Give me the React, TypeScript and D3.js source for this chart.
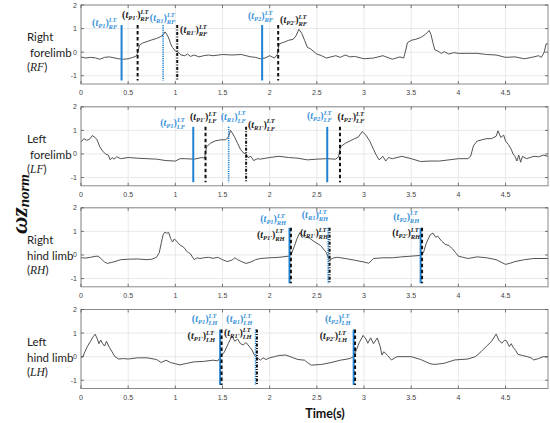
import React from 'react';
import * as d3 from 'd3';

type Pt = [number, number];

// time axis and value axis ticks
const xTicks = [0, 0.5, 1, 1.5, 2, 2.5, 3, 3.5, 4, 4.5];
const yTicks = [-1, 0, 1, 2];

// normalized angular velocity traces
const rfSeries: Pt[] = [
  [0, -0.2], [0.05, -0.25], [0.1, -0.22], [0.15, -0.24], [0.2, -0.3], [0.25, -0.22], [0.3, -0.2],
  [0.35, -0.24], [0.4, -0.28], [0.45, -0.3], [0.5, -0.28], [0.55, -0.22], [0.58, -0.18], [0.6, -0.05],
  [0.62, 0.3], [0.65, 0.38], [0.7, 0.45], [0.75, 0.52], [0.8, 0.58], [0.84, 0.65], [0.87, 0.72],
  [0.89, 0.86], [0.91, 0.75], [0.93, 0.6], [0.95, 0.35], [0.97, 0.2], [1.0, 0.05], [1.03, 0.0],
  [1.06, -0.12], [1.1, -0.15], [1.13, -0.08], [1.16, -0.18], [1.2, -0.12], [1.25, -0.2], [1.3, -0.15],
  [1.35, -0.12], [1.4, -0.15], [1.5, -0.1], [1.6, -0.12], [1.7, -0.1], [1.75, -0.15], [1.8, -0.2],
  [1.85, -0.22], [1.9, -0.28], [1.95, -0.25], [2.0, -0.15], [2.05, -0.25], [2.08, -0.1], [2.1, 0.35],
  [2.15, 0.42], [2.2, 0.5], [2.25, 0.55], [2.28, 0.7], [2.31, 0.97], [2.34, 0.8], [2.37, 0.5],
  [2.4, 0.2], [2.43, 0.15], [2.46, 0.05], [2.5, -0.08], [2.55, -0.15], [2.6, -0.25], [2.65, -0.2],
  [2.7, -0.15], [2.75, -0.22], [2.8, -0.12], [2.85, -0.2], [2.9, -0.18], [3.0, -0.28], [3.1, -0.25],
  [3.2, -0.15], [3.3, -0.3], [3.38, -0.2], [3.42, -0.25], [3.44, 0.05], [3.46, 0.4], [3.5, 0.5],
  [3.55, 0.55], [3.6, 0.62], [3.65, 0.75], [3.69, 0.92], [3.71, 0.75], [3.73, 0.4], [3.75, 0.1],
  [3.78, 0.05], [3.82, -0.05], [3.85, 0.02], [3.9, -0.08], [3.95, -0.02], [4.0, -0.05], [4.1, -0.05],
  [4.2, -0.05], [4.3, -0.1], [4.4, -0.12], [4.5, -0.22], [4.6, -0.2], [4.7, -0.28], [4.8, -0.2],
  [4.85, -0.15], [4.88, -0.22], [4.91, 0.0], [4.93, 0.35], [4.95, 0.35],
];

const lfSeries: Pt[] = [
  [0, 0.5], [0.03, 0.65], [0.06, 0.58], [0.09, 0.62], [0.12, 0.78], [0.15, 0.7], [0.17, 0.6],
  [0.2, 0.3], [0.23, 0.12], [0.26, 0.0], [0.29, -0.05], [0.31, -0.25], [0.33, -0.15], [0.35, -0.22],
  [0.38, -0.12], [0.42, -0.2], [0.5, -0.15], [0.6, -0.18], [0.7, -0.2], [0.8, -0.22], [0.9, -0.28],
  [1.0, -0.3], [1.05, -0.2], [1.1, -0.2], [1.2, -0.22], [1.28, -0.15], [1.31, -0.18], [1.33, 0.3],
  [1.37, 0.45], [1.42, 0.55], [1.48, 0.6], [1.53, 0.6], [1.56, 0.7], [1.585, 1.0], [1.61, 0.85],
  [1.63, 0.7], [1.66, 0.45], [1.69, 0.2], [1.72, 0.05], [1.75, 0.0], [1.77, -0.15], [1.8, -0.1],
  [1.83, -0.28], [1.87, -0.2], [1.9, -0.22], [2.0, -0.15], [2.1, -0.1], [2.2, -0.15], [2.3, -0.18],
  [2.4, -0.25], [2.5, -0.22], [2.6, -0.2], [2.7, -0.22], [2.73, -0.12], [2.75, 0.3], [2.8, 0.45],
  [2.85, 0.55], [2.9, 0.65], [2.94, 0.72], [2.98, 0.95], [3.02, 0.8], [3.06, 0.55], [3.1, 0.2],
  [3.13, -0.05], [3.16, -0.25], [3.2, -0.1], [3.23, -0.3], [3.26, -0.15], [3.3, -0.2], [3.4, -0.1],
  [3.5, -0.2], [3.6, -0.32], [3.7, -0.3], [3.8, -0.3], [3.9, -0.25], [4.0, -0.2], [4.1, -0.2],
  [4.13, -0.1], [4.16, 0.35], [4.2, 0.55], [4.25, 0.6], [4.3, 0.65], [4.35, 0.65], [4.4, 0.75],
  [4.42, 0.98], [4.45, 0.7], [4.48, 0.8], [4.5, 0.55], [4.53, 0.4], [4.56, 0.2], [4.58, 0.0],
  [4.6, -0.1], [4.62, -0.3], [4.64, -0.05], [4.66, -0.35], [4.68, -0.1], [4.72, -0.2], [4.76, -0.15],
  [4.8, -0.1], [4.85, -0.12], [4.9, -0.05], [4.95, -0.1],
];

const rhSeries: Pt[] = [
  [0, -0.12], [0.05, -0.13], [0.1, -0.1], [0.15, -0.06], [0.18, -0.05], [0.21, -0.15], [0.25, -0.3],
  [0.28, -0.36], [0.32, -0.32], [0.36, -0.28], [0.42, -0.2], [0.5, -0.18], [0.6, -0.17], [0.7, -0.2],
  [0.75, -0.18], [0.8, -0.1], [0.83, 0.1], [0.85, 0.5], [0.87, 0.85], [0.89, 0.97], [0.91, 0.92],
  [0.93, 0.95], [0.95, 0.7], [0.97, 0.55], [0.99, 0.68], [1.02, 0.55], [1.05, 0.42], [1.08, 0.35],
  [1.1, 0.28], [1.12, 0.15], [1.14, 0.1], [1.16, 0.05], [1.18, -0.08], [1.2, -0.2], [1.23, -0.12],
  [1.26, -0.15], [1.3, -0.12], [1.35, -0.1], [1.4, -0.14], [1.45, -0.1], [1.5, -0.2], [1.55, -0.28],
  [1.6, -0.22], [1.63, -0.12], [1.66, -0.2], [1.7, -0.28], [1.75, -0.36], [1.8, -0.3], [1.85, -0.2],
  [1.9, -0.15], [2.0, -0.12], [2.1, -0.1], [2.2, -0.05], [2.23, 0.05], [2.26, 0.35], [2.29, 0.7],
  [2.32, 0.95], [2.35, 0.82], [2.38, 0.75], [2.42, 0.72], [2.46, 0.6], [2.5, 0.5], [2.54, 0.4],
  [2.58, 0.2], [2.6, 0.1], [2.62, -0.1], [2.64, -0.2], [2.68, -0.12], [2.72, -0.1], [2.8, -0.15],
  [2.9, -0.22], [3.0, -0.3], [3.05, -0.35], [3.1, -0.15], [3.2, -0.12], [3.3, -0.12], [3.4, -0.08],
  [3.5, -0.05], [3.6, -0.02], [3.63, 0.1], [3.66, 0.5], [3.7, 0.85], [3.73, 0.93], [3.76, 0.75],
  [3.78, 0.8], [3.82, 0.6], [3.86, 0.45], [3.9, 0.4], [3.94, 0.25], [3.97, 0.1], [4.0, -0.05],
  [4.05, -0.1], [4.1, -0.15], [4.2, -0.08], [4.3, -0.12], [4.4, -0.2], [4.5, -0.4], [4.55, -0.35],
  [4.6, -0.28], [4.7, -0.2], [4.8, -0.15], [4.95, -0.15],
];

const lhSeries: Pt[] = [
  [0, -0.05], [0.02, 0.0], [0.04, 0.2], [0.07, 0.45], [0.1, 0.65], [0.13, 0.85], [0.15, 0.95],
  [0.17, 0.78], [0.19, 0.55], [0.21, 0.7], [0.23, 0.55], [0.25, 0.45], [0.27, 0.65], [0.3, 0.4],
  [0.33, 0.2], [0.36, 0.0], [0.4, -0.1], [0.45, -0.08], [0.5, -0.1], [0.6, -0.05], [0.7, -0.05],
  [0.8, -0.12], [0.85, -0.25], [0.9, -0.15], [0.95, -0.25], [1.0, -0.3], [1.05, -0.35], [1.1, -0.3],
  [1.2, -0.22], [1.3, -0.2], [1.4, -0.15], [1.45, -0.18], [1.48, 0.0], [1.52, 0.2], [1.56, 0.55],
  [1.6, 0.88], [1.63, 0.65], [1.66, 0.75], [1.69, 0.55], [1.72, 0.5], [1.75, 0.6], [1.78, 0.45],
  [1.81, 0.3], [1.84, 0.05], [1.87, -0.05], [1.9, -0.15], [1.93, -0.05], [1.96, -0.12], [2.0, -0.05],
  [2.05, 0.0], [2.1, 0.05], [2.17, 0.07], [2.25, -0.05], [2.3, -0.12], [2.37, -0.15], [2.4, -0.25],
  [2.44, -0.36], [2.55, -0.33], [2.65, -0.25], [2.75, -0.15], [2.85, -0.08], [2.89, 0.0], [2.92, 0.3],
  [2.95, 0.6], [2.99, 0.9], [3.02, 0.75], [3.04, 0.57], [3.07, 0.8], [3.1, 0.55], [3.14, 0.79],
  [3.17, 0.45], [3.19, 0.07], [3.21, 0.21], [3.25, 0.05], [3.29, -0.14], [3.35, 0.0], [3.4, 0.0],
  [3.5, 0.0], [3.6, -0.12], [3.7, -0.3], [3.75, -0.33], [3.85, -0.28], [3.96, -0.14], [4.1, -0.1],
  [4.18, 0.0], [4.24, 0.21], [4.3, 0.45], [4.35, 0.64], [4.4, 0.96], [4.43, 0.7], [4.46, 0.57],
  [4.49, 0.7], [4.51, 0.67], [4.54, 0.43], [4.56, 0.55], [4.58, 0.4], [4.61, 0.25], [4.63, 0.1],
  [4.68, 0.05], [4.73, 0.0], [4.77, -0.05], [4.8, -0.14], [4.85, -0.08], [4.9, 0.0], [4.95, -0.02],
];

// event markers: [time, phase, primed]
type Marker = [number, string, boolean];
const rfMarkers: Marker[] = [[0.43, 'P1', false], [0.6, 'P1', true], [0.87, 'R1', false], [1.02, 'R1', true], [1.92, 'P2', false], [2.09, 'P2', true]];
const lfMarkers: Marker[] = [[1.19, 'P1', false], [1.32, 'P1', true], [1.565, 'R1', false], [1.75, 'R1', true], [2.61, 'P2', false], [2.745, 'P2', true]];
const rhMarkers: Marker[] = [[2.21, 'P1', false], [2.225, 'P1', true], [2.62, 'R1', false], [2.635, 'R1', true], [3.6, 'P2', false], [3.615, 'P2', true]];
const lhMarkers: Marker[] = [[1.475, 'P1', false], [1.49, 'P1', true], [1.85, 'R1', false], [1.865, 'R1', true], [2.89, 'P2', false], [2.905, 'P2', true]];

// label anchors: [time, value, phase, primed]
type LabelPos = [number, number, string, boolean];
const rfLabels: LabelPos[] = [[0.117, 1.11, 'P1', false], [0.435, 1.45, 'P1', true], [0.73, 1.32, 'R1', false], [1.05, 0.81, 'R1', true], [1.77, 1.41, 'P2', false], [2.11, 1.24, 'P2', true]];
const lfLabels: LabelPos[] = [[0.84, 1.19, 'P1', false], [1.155, 1.44, 'P1', true], [1.48, 1.46, 'R1', false], [1.77, 1.12, 'R1', true], [2.395, 1.48, 'P2', false], [2.72, 1.44, 'P2', true]];
const rhLabels: LabelPos[] = [[1.9, 1.4, 'P1', false], [1.865, 0.74, 'P1', true], [2.34, 1.55, 'R1', false], [2.32, 0.79, 'R1', true], [3.31, 1.5, 'P2', false], [3.3, 0.79, 'P2', true]];
const lhLabels: LabelPos[] = [[1.175, 1.45, 'P1', false], [1.13, 0.74, 'P1', true], [1.54, 1.45, 'R1', false], [1.515, 0.86, 'R1', true], [2.585, 1.45, 'P2', false], [2.53, 0.74, 'P2', true]];

const limbCodes = ['RF', 'LF', 'RH', 'LH'];
const limbTitles = [['Right', ' forelimb'], ['Left', ' forelimb'], ['Right', 'hind limb'], ['Left', 'hind limb']];

const BLUE = '#1f82d2';
const LABEL_BLUE = '#3b93d8';
const W = 550;
const H = 423;
const PANEL_TOPS = [5, 106.8, 207.8, 309.5];
const PANEL_H = 79;

const x = d3.scaleLinear().domain([0, 4.95]).range([81, 548]);
const line = d3.line<Pt>().x(d => x(d[0]));

const MathLabel: React.FC<{ px: number; py: number; phase: string; prime: boolean; limb: string; color: string }> = ({ px, py, phase, prime, limb, color }) => (
  <text x={px} y={py} fontFamily="'Liberation Serif', serif" fontStyle="italic" fontWeight="bold" fontSize={10} fill={color}>
    <tspan fontStyle="normal">(</tspan>t
    <tspan fontSize={6.5} dy={2}>{prime ? `${phase}'` : phase}</tspan>
    <tspan fontStyle="normal" dy={-2}>)</tspan>
    <tspan fontSize={6.5} dy={-4.2}>LT</tspan>
    <tspan fontSize={6.5} dx={-8} dy={7.2}>{limb}</tspan>
  </text>
);

const Panel: React.FC<{ idx: number; series: Pt[]; markers: Marker[]; labels: LabelPos[] }> = ({ idx, series, markers, labels }) => {
  const top = PANEL_TOPS[idx];
  const bottom = top + PANEL_H;
  const y = d3.scaleLinear().domain([-1.35, 2]).range([bottom, top]);
  const [x0, x1] = x.range();
  const limb = limbCodes[idx];
  const [t1, t2] = limbTitles[idx];
  const path = line.y(d => y(d[1]))(series) || '';

  const markerStyle = (phase: string, prime: boolean) => {
    if (!prime && phase !== 'R1') return { stroke: BLUE, w: 2, dash: undefined as string | undefined };
    if (!prime) return { stroke: BLUE, w: 1.6, dash: '1.2,1' };
    if (phase === 'R1') return { stroke: '#111', w: 2, dash: '3,1.5,1,1.5' };
    return { stroke: '#111', w: 2, dash: '3.5,2.5' };
  };

  return (
    <g>
      <rect x={x0} y={top} width={x1 - x0} height={PANEL_H} fill="#fff" />
      {xTicks.map(t => (
        <line key={`gx${t}`} x1={x(t)} x2={x(t)} y1={top} y2={bottom} stroke="#e3e3e3" strokeWidth={0.8} />
      ))}
      {yTicks.map(v => (
        <line key={`gy${v}`} x1={x0} x2={x1} y1={y(v)} y2={y(v)} stroke="#e3e3e3" strokeWidth={0.8} />
      ))}
      <path d={path} fill="none" stroke="#404040" strokeWidth={0.9} strokeLinejoin="round" />
      {markers.map(([t, phase, prime], i) => {
        const s = markerStyle(phase, prime);
        return (
          <line key={`m${i}`} x1={x(t)} x2={x(t)} y1={y(1.15)} y2={y(-1.2)} stroke={s.stroke} strokeWidth={s.w} strokeDasharray={s.dash} />
        );
      })}
      {labels.map(([t, v, phase, prime], i) => (
        <MathLabel key={`l${i}`} px={x(t)} py={y(v)} phase={phase} prime={prime} limb={limb} color={prime ? '#222' : LABEL_BLUE} />
      ))}
      <rect x={x0} y={top} width={x1 - x0} height={PANEL_H} fill="none" stroke="#8a8a8a" strokeWidth={1} />
      {xTicks.map(t => (
        <g key={`tx${t}`}>
          <line x1={x(t)} x2={x(t)} y1={bottom} y2={bottom - 3} stroke="#555" strokeWidth={0.8} />
          <line x1={x(t)} x2={x(t)} y1={top} y2={top + 3} stroke="#555" strokeWidth={0.8} />
          <text x={x(t)} y={bottom + 11} textAnchor="middle" fontFamily="'Liberation Sans', sans-serif" fontSize={7} fill="#444">{t}</text>
        </g>
      ))}
      {yTicks.map(v => (
        <g key={`ty${v}`}>
          <line x1={x0} x2={x0 + 3} y1={y(v)} y2={y(v)} stroke="#555" strokeWidth={0.8} />
          <line x1={x1} x2={x1 - 3} y1={y(v)} y2={y(v)} stroke="#555" strokeWidth={0.8} />
          <text x={x0 - 4} y={y(v) + 2.5} textAnchor="end" fontFamily="'Liberation Sans', sans-serif" fontSize={7} fill="#444">{v}</text>
        </g>
      ))}
      <text fontFamily="Lato, sans-serif" fontSize={11.5} fill="#222">
        <tspan x={27} y={top + 36}>{t1}</tspan>
        <tspan x={27} y={top + 52} style={{ whiteSpace: 'pre' }}>{t2}</tspan>
        <tspan x={27} y={top + 66}>(</tspan>
        <tspan fontFamily="'Liberation Serif', serif" fontStyle="italic">{limb}</tspan>
        <tspan>)</tspan>
      </text>
    </g>
  );
};

export default function App() {
  const all = [
    { s: rfSeries, m: rfMarkers, l: rfLabels },
    { s: lfSeries, m: lfMarkers, l: lfLabels },
    { s: rhSeries, m: rhMarkers, l: rhLabels },
    { s: lhSeries, m: lhMarkers, l: lhLabels },
  ];
  return (
    <svg width={W} height={H} style={{ position: 'absolute', left: 0, top: 0, background: '#fff' }}>
      {all.map((p, i) => (
        <Panel key={i} idx={i} series={p.s} markers={p.m} labels={p.l} />
      ))}
      <text transform="translate(27,204) rotate(-90)" textAnchor="middle" fontFamily="'Liberation Serif', serif" fontWeight="bold" fontStyle="italic" fontSize={24} fill="#111">
        ωz<tspan fontSize={15} dy={2}>norm</tspan>
      </text>
      <text x={325} y={418} textAnchor="middle" fontFamily="Lato, sans-serif" fontWeight="bold" fontSize={12.5} fill="#111">Time(s)</text>
    </svg>
  );
}
